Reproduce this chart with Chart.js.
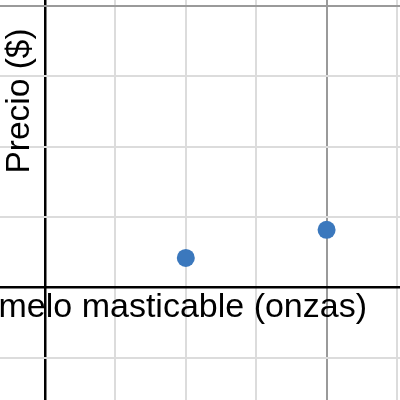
<!DOCTYPE html>
<html>
<head>
<meta charset="utf-8">
<script src="https://cdn.jsdelivr.net/npm/chart.js@4.4.1/dist/chart.umd.min.js"></script>
<style>
html,body{margin:0;padding:0;background:#fff;}
#wrap{width:400px;height:400px;}
</style>
</head>
<body>
<div id="wrap"><canvas id="c" width="400" height="400"></canvas></div>
<script>
const xValues = [2, 4];
const yValues = [0.42, 0.82];
const xTicks = [0, 1, 2, 3, 4, 5];
const yTicks = [-1, 0, 1, 2, 3, 4];
const xTitle = "Caramelo masticable (onzas)";
const yTitle = "Precio ($)";

const UNIT = 70.4;
const X0 = 45, Y0 = 287.5;

function gridColor(ctx) {
  const v = ctx.tick && ctx.tick.value;
  if (v === 0) return '#000000';
  if (v === 4) return '#9a9a9a';
  return '#dcdcdc';
}
function gridWidth(ctx) {
  const v = ctx.tick && ctx.tick.value;
  if (v === 0) return 2.5;
  return 2;
}

const titlePlugin = {
  id: 'axisTitles',
  afterDatasetsDraw(chart) {
    const ctx = chart.ctx;
    ctx.save();
    ctx.fillStyle = '#000';
    ctx.font = '34px "Liberation Sans", Arial, sans-serif';
    ctx.textBaseline = 'alphabetic';
    ctx.textAlign = 'right';
    ctx.fillText(xTitle, 367, 317);
    ctx.translate(29, 101);
    ctx.rotate(-Math.PI / 2);
    ctx.textAlign = 'center';
    ctx.font = '33.5px "Liberation Sans", Arial, sans-serif';
    ctx.fillText(yTitle, 0, 0);
    ctx.restore();
  }
};

new Chart(document.getElementById('c'), {
  type: 'scatter',
  data: {
    datasets: [{
      data: xValues.map((x, i) => ({ x: x, y: yValues[i] })),
      backgroundColor: '#3b78bd',
      borderWidth: 0,
      pointRadius: 9,
      pointHoverRadius: 9,
      clip: false
    }]
  },
  options: {
    responsive: false,
    animation: false,
    events: [],
    layout: { padding: 0, autoPadding: false },
    plugins: { legend: { display: false }, tooltip: { enabled: false } },
    scales: {
      x: {
        type: 'linear',
        min: -X0 / UNIT,
        max: (400 - X0) / UNIT,
        afterBuildTicks(scale) { scale.ticks = xTicks.map(v => ({ value: v })); },
        ticks: { display: false, padding: 0 },
        grid: { color: gridColor, lineWidth: gridWidth, drawTicks: false, tickLength: 0 },
        border: { display: false }
      },
      y: {
        type: 'linear',
        min: (Y0 - 400) / UNIT,
        max: Y0 / UNIT,
        afterBuildTicks(scale) { scale.ticks = yTicks.map(v => ({ value: v })); },
        ticks: { display: false, padding: 0 },
        grid: { color: gridColor, lineWidth: gridWidth, drawTicks: false, tickLength: 0 },
        border: { display: false }
      }
    }
  },
  plugins: [titlePlugin]
});
</script>
</body>
</html>
